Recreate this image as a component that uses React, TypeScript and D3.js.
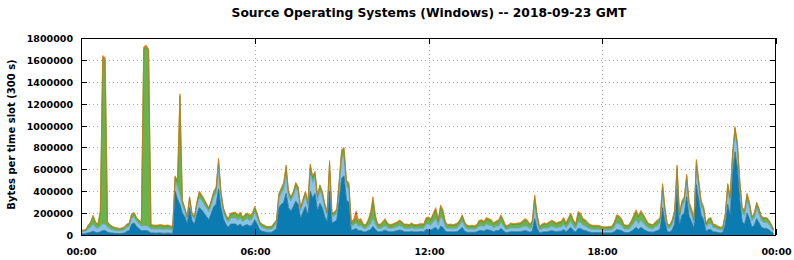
import React from 'react';
import * as d3 from 'd3';

const W = 794;
const H = 260;

const title = 'Source Operating Systems (Windows) -- 2018-09-23 GMT';
const yLabel = 'Bytes per time slot (300 s)';
const slotSeconds = 300;

const seriesNames = ['Windows 10', 'Windows 7', 'Windows 8', 'Windows XP', 'Other'];

// values in kB per 300 s slot (288 slots)
const darkBlue = [
  12,12,14,20,25,35,25,20,30,40,40,25,
  20,18,15,14,13,15,18,35,40,100,110,80,
  60,40,40,40,35,18,18,17,18,18,17,16,
  18,16,14,400,330,280,200,170,100,250,130,100,
  190,250,230,200,170,140,200,260,280,420,250,150,
  100,70,100,100,100,85,100,75,90,95,80,95,
  140,100,50,35,30,25,25,25,40,60,250,280,
  300,380,250,220,260,310,280,150,210,260,180,400,
  340,380,220,290,250,170,120,400,110,120,140,320,
  520,540,320,300,40,50,60,40,40,30,28,40,
  50,80,50,30,30,35,45,35,30,30,35,40,
  45,40,30,30,28,35,28,28,30,32,30,50,
  50,45,60,70,40,80,70,35,28,30,28,30,
  32,50,70,35,25,25,25,25,28,40,40,35,
  50,45,40,30,40,40,60,40,22,25,30,30,
  30,30,30,35,40,35,25,35,150,60,20,25,
  30,28,35,40,35,30,35,35,50,30,50,70,
  40,28,60,60,45,40,32,25,22,22,22,22,
  20,20,20,20,20,30,50,45,40,25,22,22,
  35,50,70,50,70,55,40,30,28,25,35,40,
  60,250,120,30,28,50,100,420,90,180,200,350,
  170,120,60,460,320,180,140,35,50,50,30,28,
  22,20,25,100,280,180,560,760,620,320,120,100,
  200,150,70,90,150,110,70,60,60,50,30,15,
];
const lightBlue = [
  20,20,22,35,45,65,45,40,50,60,60,45,
  35,30,27,25,23,25,28,35,38,55,55,45,
  45,40,45,45,40,37,36,35,36,37,35,34,
  36,34,30,100,110,90,70,50,45,70,45,45,
  70,90,85,80,75,70,75,90,100,200,100,60,
  50,45,55,55,55,50,55,45,50,55,50,55,
  70,55,40,33,30,27,27,28,35,45,90,100,
  120,170,100,90,100,120,110,70,85,100,80,170,
  140,140,90,120,100,80,60,180,55,55,60,130,
  180,180,120,120,35,40,50,40,45,30,28,40,
  50,70,45,30,30,35,40,32,28,30,32,35,
  40,35,30,30,28,32,28,28,30,30,30,50,
  50,45,60,80,45,85,70,35,28,30,28,30,
  35,45,60,40,30,28,30,28,30,40,45,40,
  50,45,45,35,40,40,55,45,28,30,35,35,
  35,35,35,40,45,40,30,40,120,60,27,30,
  35,32,35,40,38,35,35,38,45,35,45,55,
  40,32,60,55,45,40,35,30,30,28,28,27,
  25,25,25,26,27,40,60,55,45,30,30,30,
  40,55,70,55,65,55,45,35,32,30,40,45,
  50,150,70,35,35,45,70,150,55,80,100,140,
  80,70,50,160,120,80,75,35,50,55,35,35,
  28,25,27,60,140,120,140,170,170,130,80,80,
  120,100,60,65,100,80,60,55,55,50,35,20,
];
const green = [
  10,10,11,30,45,72,45,35,130,1520,1500,45,
  33,27,23,21,19,20,24,25,27,35,35,30,
  30,35,1615,1630,1610,32,30,30,30,32,30,30,
  30,28,25,30,50,900,40,25,20,25,20,20,
  30,45,45,40,35,30,35,40,45,60,40,30,
  30,28,35,40,45,37,45,37,40,40,40,40,
  40,35,27,25,23,20,20,21,27,27,30,40,
  45,70,40,30,30,40,40,25,25,30,30,60,
  45,45,40,40,40,30,25,80,25,25,30,40,
  60,60,45,45,30,30,40,35,45,30,29,45,
  80,170,65,30,30,38,50,33,28,30,33,35,
  40,35,30,30,30,33,30,30,30,33,30,45,
  50,45,65,80,45,90,75,40,30,30,30,30,
  33,35,45,35,27,25,27,25,28,42,43,40,
  45,45,42,35,38,42,55,43,27,27,35,30,
  30,35,37,45,50,47,35,45,80,55,25,35,
  35,35,40,45,42,35,40,42,50,35,50,60,
  45,35,75,70,48,48,38,32,30,30,30,28,
  23,23,23,25,26,38,60,60,50,32,30,32,
  40,55,70,60,70,65,50,35,32,32,35,45,
  40,55,45,27,25,35,45,50,40,40,40,50,
  40,40,32,50,45,40,35,30,40,45,28,25,
  23,20,22,30,40,40,40,45,45,40,40,40,
  50,40,32,35,40,40,32,35,35,32,28,15,
];
const orange = [
  3,3,3,5,5,8,5,5,10,20,20,5,
  7,5,5,5,5,5,5,5,5,5,5,5,
  5,5,20,20,15,8,8,8,8,8,8,8,
  8,7,6,10,10,20,10,5,5,5,5,5,
  10,15,10,10,10,10,10,10,15,20,10,10,
  10,7,10,10,10,8,10,8,10,10,10,10,
  10,10,8,7,7,6,6,6,8,8,10,10,
  15,20,10,10,10,10,10,5,10,10,10,20,
  15,15,10,10,10,10,10,20,10,10,10,10,
  20,20,15,15,15,20,40,20,20,10,10,15,
  30,30,20,10,10,12,15,10,9,10,10,10,
  12,10,10,10,9,10,9,9,10,10,10,15,
  15,15,15,20,10,20,15,10,9,10,9,10,
  10,10,10,10,8,7,8,7,9,13,12,10,
  15,15,13,10,12,13,15,12,8,8,10,10,
  10,10,10,10,15,13,10,10,15,15,8,10,
  10,10,10,10,10,10,10,10,15,10,15,15,
  15,10,20,15,12,12,10,8,8,8,8,8,
  7,7,7,7,7,12,15,15,15,8,8,8,
  15,20,20,15,20,15,15,10,8,8,10,10,
  10,15,15,8,7,10,15,20,15,10,10,15,
  10,10,8,20,15,10,10,10,10,10,7,7,
  7,5,6,10,10,10,10,15,15,10,10,10,
  10,10,8,10,10,10,8,10,10,8,7,5,
];
const red = [
  0,0,0,0,0,0,0,0,0,0,0,0,
  0,0,0,0,0,0,0,0,0,0,0,0,
  0,0,0,0,0,0,0,0,0,0,0,0,
  0,0,0,0,0,0,0,0,0,0,0,0,
  0,0,0,0,0,0,0,0,0,0,0,0,
  0,0,0,0,0,0,0,0,0,0,0,0,
  0,0,0,0,0,0,0,0,0,0,0,0,
  0,0,0,0,0,0,0,0,0,0,0,0,
  0,0,0,0,0,0,0,0,0,0,0,0,
  0,0,0,0,0,10,40,5,0,0,0,0,
  0,0,0,0,0,0,0,0,0,0,0,0,
  0,0,0,0,0,0,0,0,0,0,0,0,
  0,0,0,0,0,0,0,0,0,0,0,0,
  0,0,0,0,0,0,0,0,0,0,0,0,
  0,0,0,0,0,0,0,0,0,0,0,0,
  0,0,0,0,0,0,0,0,0,0,0,0,
  0,0,0,0,0,0,0,0,0,0,0,0,
  0,0,0,0,0,0,0,0,0,0,0,0,
  0,0,0,0,0,0,0,0,0,0,0,0,
  0,0,0,0,0,0,0,0,0,0,0,0,
  0,0,0,0,0,0,0,0,0,0,0,0,
  0,0,0,0,0,0,0,0,0,0,0,0,
  0,0,0,0,0,0,0,0,0,0,0,0,
  0,0,0,0,0,0,0,0,0,0,0,0,
];

const yTicks = [0, 200000, 400000, 600000, 800000, 1000000, 1200000, 1400000, 1600000, 1800000];
const xTickMinutes = [0, 360, 720, 1080, 1440];
const xTickLabels = ['00:00', '06:00', '12:00', '18:00', '00:00'];

const fills = ['#0a7cb2', '#88c2e4', '#6ab34a', '#e0891c', '#c8401a'];
const strokes = ['#2a6f92', '#6aa2c2', '#4a8c2a', '#d27c14', 'none'];

const M = { left: 81, right: 776, top: 38, bottom: 235 };
const FONT = '"DejaVu Sans", sans-serif';

export default function App() {
  const seriesArrays = [darkBlue, lightBlue, green, orange, red];
  const rows = darkBlue.map((_, i) => {
    const r: Record<string, number> = { t: (i * slotSeconds) / 60 };
    seriesNames.forEach((n, k) => { r[n] = seriesArrays[k][i] * 1000; });
    return r;
  });
  const stacked = d3.stack<Record<string, number>>().keys(seriesNames)(rows);
  const x = d3.scaleLinear().domain([0, 1440]).range([M.left, M.right]);
  const y = d3.scaleLinear().domain([0, 1800000]).range([M.bottom, M.top]);
  const area = d3.area<any>()
    .x((d) => x(d.data.t))
    .y0((d) => y(d[0]))
    .y1((d) => y(d[1]))
    .curve(d3.curveLinear);
  const topLine = d3.line<any>()
    .x((d) => x(d.data.t))
    .y((d) => y(d[1]))
    .curve(d3.curveLinear);

  return (
    <svg width={W} height={H} style={{ position: 'absolute', left: 0, top: 0, background: '#fff' }}
      fontFamily={FONT} fontWeight="bold">
      <rect x={0} y={0} width={W} height={H} fill="#fff" />
      {/* grid */}
      {yTicks.slice(1, -1).map((v) => (
        <line key={'gy' + v} x1={M.left} x2={M.right} y1={Math.round(y(v)) + 0.5} y2={Math.round(y(v)) + 0.5}
          stroke="#a8a8a8" strokeWidth={1} strokeDasharray="1,3" />
      ))}
      {xTickMinutes.slice(1, -1).map((m) => (
        <line key={'gx' + m} x1={Math.round(x(m)) + 0.5} x2={Math.round(x(m)) + 0.5} y1={M.top} y2={M.bottom}
          stroke="#a8a8a8" strokeWidth={1} strokeDasharray="1,3" />
      ))}
      {/* areas */}
      {stacked.map((s, k) => (
        <path key={'a' + k} d={area(s as any) || ''} fill={fills[k]} stroke="none" />
      ))}
      {stacked.map((s, k) => (
        strokes[k] === 'none' ? null :
        <path key={'l' + k} d={topLine(s as any) || ''} fill="none" stroke={strokes[k]} strokeWidth={0.8} />
      ))}
      {/* frame */}
      <rect x={M.left + 0.5} y={M.top + 0.5} width={M.right - M.left - 1} height={M.bottom - M.top} fill="none" stroke="#000" strokeWidth={1} />
      {/* y ticks */}
      {yTicks.map((v) => {
        const yy = Math.round(y(v)) + 0.5;
        return (
          <g key={'yt' + v}>
            <line x1={M.left} x2={M.left + 6} y1={yy} y2={yy} stroke="#000" />
            <line x1={M.right - 6} x2={M.right} y1={yy} y2={yy} stroke="#000" />
            <text x={73} y={yy} dy="0.36em" textAnchor="end" fontSize={9.5} fill="#000">{v}</text>
          </g>
        );
      })}
      {/* x ticks */}
      {xTickMinutes.map((m, k) => {
        const xx = Math.round(x(m)) + 0.5;
        return (
          <g key={'xt' + k}>
            <line x1={xx} x2={xx} y1={M.bottom} y2={M.bottom - 6} stroke="#000" />
            <line x1={xx} x2={xx} y1={M.top} y2={M.top + 6} stroke="#000" />
            <text x={xx} y={255} textAnchor="middle" fontSize={9.5} fill="#000">{xTickLabels[k]}</text>
          </g>
        );
      })}
      <text x={429} y={16.5} textAnchor="middle" fontSize={12.3} fill="#000">{title}</text>
      <text transform={`translate(15,${(M.top + M.bottom) / 2 - 2}) rotate(-90)`} textAnchor="middle" fontSize={10} fill="#000">{yLabel}</text>
    </svg>
  );
}
